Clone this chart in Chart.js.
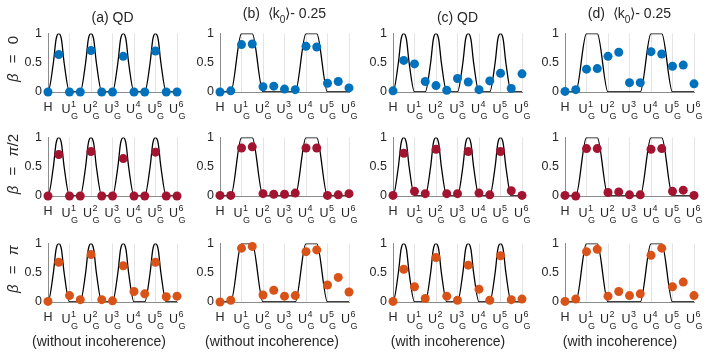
<!DOCTYPE html>
<html><head><meta charset="utf-8">
<script src="https://cdn.jsdelivr.net/npm/chart.js@4"></script>
<style>
html,body{margin:0;padding:0;background:#fff;width:707px;height:354px;overflow:hidden;font-family:"Liberation Sans",Arial,sans-serif;}
.pan{position:absolute;}
.txt{position:absolute;white-space:nowrap;color:#262626;font-size:14px;line-height:14px;}
.ctr{transform:translateX(-50%);}
.rot{transform:translate(-50%,-50%) rotate(-90deg);font-size:15px;line-height:15px;word-spacing:6px;}
</style></head><body>
<script>
// ---- data ----
const POS = [0,0.5,1,1.5,2,2.5,3,3.5,4,4.5,5,5.5,6];
const QD_X = [-0.5, 0,0.25,0.375,0.5,0.625,0.75,1, 1.5,1.75,1.875,2,2.125,2.25,2.5,
              3,3.25,3.375,3.5,3.625,3.75,4, 4.5,4.75,4.875,5,5.125,5.25,5.5, 6];
const QD_Y = [0, 0,0.5,0.9,1,0.9,0.5,0, 0,0.5,0.9,1,0.9,0.5,0,
              0,0.5,0.9,1,0.9,0.5,0, 0,0.5,0.9,1,0.9,0.5,0, 0];
const K0_X = [0,0.5,1,1.5,2,2.5,3,3.5,4,4.5,5,5.5,6];
const K0_Y = [0,0,1,1,0,0,0,0,1,1,0,0,0];
const TICK_VALUES = [0,1,2,3,4,5,6];
const TICK_BASE = ['H','U','U','U','U','U','U'];
const TICK_SUP  = ['','1','2','3','4','5','6'];
const TICK_SUB  = ['','G','G','G','G','G','G'];
const Y_TICK_LABELS = {0:'0', 0.5:'0.5', 1:'1'};

const A_B0  = [0.00,0.64,0.00,0.00,0.71,0.00,0.00,0.61,0.00,0.00,0.70,0.00,0.00];
const B_B0  = [0.00,0.02,0.81,0.82,0.09,0.10,0.05,0.04,0.78,0.77,0.15,0.18,0.07];
const C_B0  = [0.02,0.54,0.48,0.18,0.11,0.03,0.23,0.17,0.04,0.19,0.32,0.06,0.31];
const D_B0  = [0.01,0.04,0.39,0.40,0.61,0.68,0.16,0.16,0.69,0.65,0.44,0.46,0.14];
const A_B1  = [0.00,0.71,0.00,0.00,0.76,0.00,0.00,0.64,0.00,0.00,0.75,0.00,0.00];
const B_B1  = [0.01,0.01,0.82,0.84,0.04,0.03,0.03,0.05,0.82,0.82,0.01,0.02,0.04];
const C_B1  = [0.01,0.73,0.08,0.04,0.80,0.04,0.04,0.76,0.05,0.02,0.76,0.09,0.01];
const D_B1  = [0.01,0.00,0.81,0.81,0.06,0.07,0.02,0.02,0.80,0.81,0.08,0.10,0.01];
const A_B2  = [0.01,0.68,0.11,0.04,0.81,0.04,0.02,0.62,0.18,0.14,0.68,0.09,0.10];
const B_B2  = [0.00,0.03,0.92,0.95,0.12,0.20,0.10,0.11,0.86,0.89,0.29,0.42,0.17];
const C_B2  = [0.01,0.56,0.26,0.06,0.76,0.10,0.03,0.63,0.22,0.03,0.79,0.04,0.05];
const D_B2  = [0.01,0.05,0.86,0.90,0.10,0.18,0.11,0.14,0.80,0.92,0.26,0.34,0.11];

const ROW_COLORS = ['#0072BD','#A2142F','#D95319'];
const GRID = [[A_B0,B_B0,C_B0,D_B0],[A_B1,B_B1,C_B1,D_B1],[A_B2,B_B2,C_B2,D_B2]];
const CURVES = [[QD_X,QD_Y],[K0_X,K0_Y],[QD_X,QD_Y],[K0_X,K0_Y]];

// ---- layout ----
const COL_LEFT = [48,220,393,565];
const ROW_TOP = [30,134,240];
const AW = 129, AH = 62;
const YW = 45, PT = 10, PR = 10, XH = 36;
const FONT = '"Liberation Sans", Arial, sans-serif';
const TXT = '#262626';

const tickPlugin = {
  id:'uticks',
  afterDraw(chart){
    const xs = chart.scales.x, ctx = chart.ctx, B = chart.chartArea.bottom;
    ctx.save(); ctx.fillStyle = TXT; ctx.textBaseline = 'alphabetic'; ctx.textAlign='left';
    TICK_VALUES.forEach((v,i)=>{
      const px = xs.getPixelForValue(v);
      ctx.font = '12.5px ' + FONT;
      const base = TICK_BASE[i], wb = ctx.measureText(base).width;
      if (!TICK_SUP[i]) { ctx.fillText(base, px - wb/2, B + 19); return; }
      ctx.font = '9px ' + FONT;
      const ws = Math.max(ctx.measureText(TICK_SUP[i]).width, ctx.measureText(TICK_SUB[i]).width);
      const x0 = px - (wb + ws)/2;
      ctx.font = '12.5px ' + FONT; ctx.fillText(base, x0, B + 21);
      ctx.font = '9px ' + FONT;
      ctx.fillText(TICK_SUP[i], x0 + wb + 0.5, B + 15);
      ctx.fillText(TICK_SUB[i], x0 + wb + 0.5, B + 27);
    });
    ctx.restore();
  }
};

function makePanel(r, c){
  const div = document.createElement('div');
  div.className = 'pan';
  const W = YW + AW + PR, H = PT + AH + XH;
  div.style.left = (COL_LEFT[c] - YW) + 'px';
  div.style.top = (ROW_TOP[r] - PT) + 'px';
  div.style.width = W + 'px'; div.style.height = H + 'px';
  const cv = document.createElement('canvas');
  cv.width = W; cv.height = H; cv.style.width = W+'px'; cv.style.height = H+'px';
  div.appendChild(cv); document.body.appendChild(div);
  const vals = GRID[r][c], [cx, cy] = CURVES[c];
  new Chart(cv, {
    type:'line',
    data:{ datasets:[
      { data: POS.map((x,i)=>({x, y: vals[i]})), showLine:false, pointRadius:4.5, pointHoverRadius:4.5,
        pointBackgroundColor: ROW_COLORS[r], backgroundColor: ROW_COLORS[r], pointBorderWidth:0, borderWidth:0, clip:false, order:0 },
      { data: cx.map((x,i)=>({x, y: cy[i]})), pointRadius:0,
        borderColor:'#000', borderWidth:1.3, cubicInterpolationMode:'monotone', fill:false, order:1 }
    ]},
    options:{
      responsive:false, animation:false, events:[],
      layout:{ padding:{ top:PT, right:PR, left:0, bottom:0 } },
      plugins:{ legend:{display:false}, tooltip:{enabled:false}, title:{display:false} },
      scales:{
        x:{ type:'linear', min:0, max:6,
            ticks:{ display:false, stepSize:1 },
            grid:{ display:true, color:'#e4e4e4', lineWidth:1, drawTicks:false },
            border:{ display:true, color:'#8c8c8c', width:1 },
            afterFit: s => { s.height = XH; } },
        y:{ type:'linear', min:0, max:1,
            ticks:{ stepSize:0.5, padding:6, color:TXT, font:{ family:FONT, size:12.5 },
                    callback: v => Y_TICK_LABELS[v] ?? '' },
            grid:{ display:false, drawTicks:false },
            border:{ display:true, color:'#8c8c8c', width:1 },
            afterFit: s => { s.width = YW; } }
      }
    },
    plugins:[tickPlugin]
  });
}
for (let r=0;r<3;r++) for (let c=0;c<4;c++) makePanel(r,c);

function addText(html, left, top, cls){
  const d = document.createElement('div');
  d.className = 'txt ' + cls; d.innerHTML = html;
  d.style.left = left + 'px'; d.style.top = top + 'px';
  document.body.appendChild(d);
}
const K0 = '(b) &nbsp;&#10216;k<span style="font-size:10px;position:relative;top:5px">0</span>&#10217;- 0.25';
addText('(a) QD', 112.5, 10, 'ctr');
addText(K0, 284.5, 6, 'ctr');
addText('(c) QD', 457.5, 10, 'ctr');
addText(K0.replace('(b)','(d)'), 629.5, 6, 'ctr');
addText('(without incoherence)', 99, 333.5, 'ctr');
addText('(without incoherence)', 272, 333.5, 'ctr');
addText('(with incoherence)', 448, 333.5, 'ctr');
addText('(with incoherence)', 620, 333.5, 'ctr');
const ROW_LABELS = ['<i>&beta;</i> = 0','<i>&beta;</i> = <i>&pi;</i>/2','<i>&beta;</i> = <i>&pi;</i>'];
const ROW_LABEL_CY = [58.5, 163.5, 269];
ROW_LABELS.forEach((t,r)=> addText(t, 12, ROW_LABEL_CY[r], 'rot'));
</script>
</body></html>
